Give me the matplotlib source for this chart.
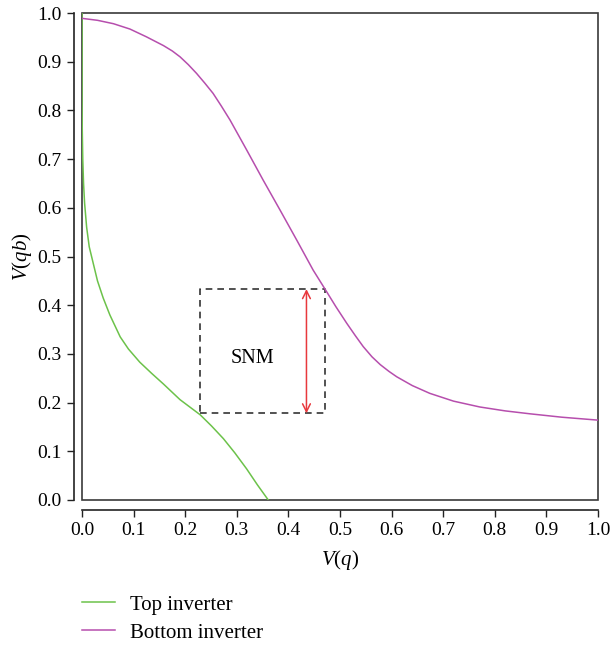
import matplotlib
matplotlib.use("Agg")
import matplotlib.pyplot as plt
from matplotlib.patches import Rectangle

# ── Data ──────────────────────────────────────────────────────
top_x = [0.0, 0.0, 0.0005, 0.0015, 0.003, 0.005, 0.009, 0.014, 0.022, 0.030, 0.041,
         0.054, 0.074, 0.090, 0.112, 0.135, 0.158, 0.190, 0.229, 0.251, 0.274,
         0.296, 0.319, 0.340, 0.361]
top_y = [1.0, 0.82, 0.76, 0.70, 0.65, 0.61, 0.56, 0.52, 0.485, 0.45, 0.415,
         0.38, 0.335, 0.31, 0.283, 0.26, 0.238, 0.206, 0.175, 0.152, 0.126,
         0.097, 0.064, 0.031, 0.0]

bot_x = [0.0, 0.03, 0.061, 0.093, 0.125, 0.158, 0.175, 0.19, 0.206, 0.222, 0.238,
         0.254, 0.270, 0.287, 0.319, 0.351, 0.384, 0.416, 0.448, 0.471, 0.492,
         0.513, 0.530, 0.545, 0.562, 0.578, 0.595, 0.610, 0.640, 0.674, 0.72,
         0.771, 0.82, 0.868, 0.93, 1.0]
bot_y = [0.989, 0.985, 0.978, 0.967, 0.951, 0.933, 0.922, 0.910, 0.894, 0.876, 0.856,
         0.835, 0.809, 0.780, 0.719, 0.657, 0.595, 0.534, 0.472, 0.433, 0.397,
         0.363, 0.337, 0.315, 0.294, 0.278, 0.264, 0.253, 0.235, 0.219, 0.203,
         0.191, 0.183, 0.177, 0.170, 0.164]

# SNM square: x range, y range and arrow position
snm_x = [0.229, 0.47]
snm_y = [0.178, 0.433]
arrow_x = 0.435

xticks = [0.0, 0.1, 0.2, 0.3, 0.4, 0.5, 0.6, 0.7, 0.8, 0.9, 1.0]
yticks = [0.0, 0.1, 0.2, 0.3, 0.4, 0.5, 0.6, 0.7, 0.8, 0.9, 1.0]

# ── Style ─────────────────────────────────────────────────────
plt.rcParams["font.family"] = "Liberation Serif"
plt.rcParams["mathtext.fontset"] = "custom"
plt.rcParams["mathtext.rm"] = "Liberation Serif"
plt.rcParams["mathtext.it"] = "Liberation Serif:italic"

GREEN = "#6cc24a"
MAGENTA = "#b64ead"
RED = "#e8383d"
FS = 14

fig = plt.figure(figsize=(6.10, 6.46), dpi=100)
ax = fig.add_axes([82 / 610, 1 - 500 / 646, 516 / 610, 487 / 646])

ax.plot(top_x, top_y, color=GREEN, lw=1.1, label="Top inverter", zorder=3)
ax.plot(bot_x, bot_y, color=MAGENTA, lw=1.1, label="Bottom inverter", zorder=3)

# dashed SNM box
ax.plot([snm_x[0], snm_x[1], snm_x[1], snm_x[0], snm_x[0]],
        [snm_y[0], snm_y[0], snm_y[1], snm_y[1], snm_y[0]],
        color="#333333", lw=1.2, ls=(0, (4, 3)), zorder=2)
ax.annotate("", xy=(arrow_x, snm_y[1]), xytext=(arrow_x, snm_y[0]),
            arrowprops=dict(arrowstyle="<->", color=RED, lw=1.1,
                            mutation_scale=14, shrinkA=0, shrinkB=0))
ax.text(0.33, 0.29, "SNM", fontsize=14.5, ha="center", va="center")

ax.set_xlim(0, 1)
ax.set_ylim(0, 1)
ax.set_xticks(xticks)
ax.set_yticks(yticks)
ax.set_xticklabels([f"{t:.1f}" for t in xticks])
ax.set_yticklabels([f"{t:.1f}" for t in yticks])
ax.tick_params(length=5, width=1, color="#222222", pad=4, labelsize=FS)

# frame box plus offset axes
ax.add_patch(Rectangle((0, 0), 1, 1, transform=ax.transAxes, fill=False,
                       ec="#3a3a3a", lw=1.2, zorder=1, clip_on=False))
ax.spines["top"].set_visible(False)
ax.spines["right"].set_visible(False)
ax.spines["left"].set_position(("outward", 6))
ax.spines["bottom"].set_position(("outward", 7))
for s in ("left", "bottom"):
    ax.spines[s].set_linewidth(1.2)
    ax.spines[s].set_color("#222222")

ax.set_xlabel(r"$V(q)$", fontsize=FS + 1, labelpad=6)
ax.set_ylabel(r"$V(qb)$", fontsize=FS + 1, labelpad=2)

fig.legend(loc="upper left", bbox_to_anchor=(82 / 610, 1 - 595 / 646),
           frameon=False, fontsize=15, handlelength=1.6, handletextpad=0.7,
           labelspacing=0.4, borderpad=0, borderaxespad=0)

fig.savefig("out.png", dpi=100)
